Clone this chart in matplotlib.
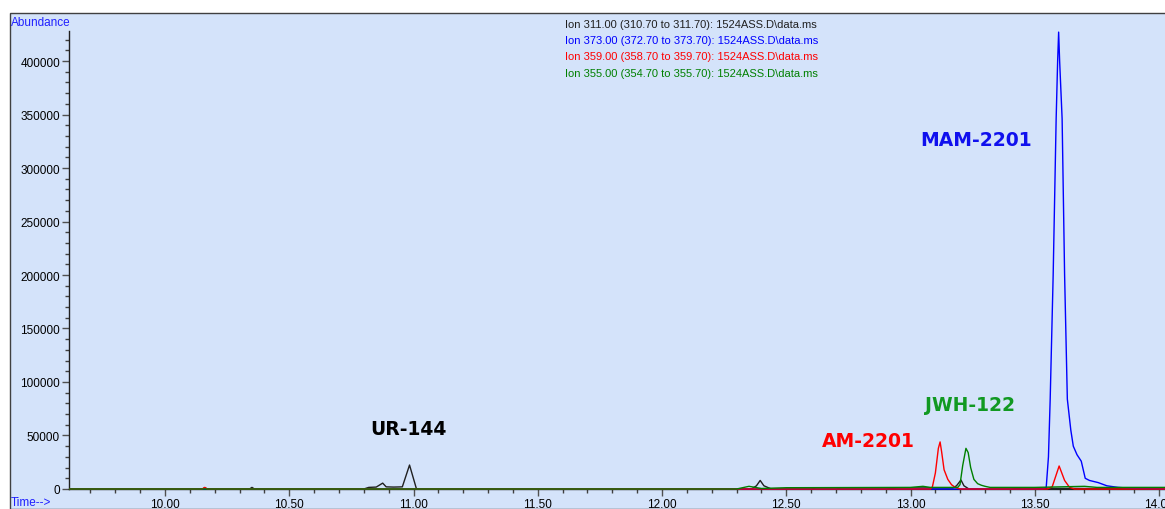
import matplotlib
matplotlib.use('Agg')
import matplotlib.pyplot as plt
from matplotlib.patches import Rectangle
from matplotlib.ticker import MultipleLocator, FuncFormatter

W, H = 1165, 510

# extracted ion chromatograms (time in min, abundance)
t_311 = [9.61, 10.15, 10.16, 10.17, 10.34, 10.35, 10.36, 10.80, 10.82, 10.85, 10.876, 10.89, 10.92,
         10.955, 10.984, 11.012, 11.05, 12.36, 12.38, 12.395, 12.41, 12.44, 12.60, 12.62, 12.70,
         12.72, 12.90, 12.95, 13.17, 13.185, 13.203, 13.215, 13.235, 13.40, 13.45, 14.03]
i_311 = [0, 0, 1200, 0, 0, 1500, 0, 0, 1500, 1800, 5500, 2000, 1800,
         2000, 22400, 0, 0, 0, 3000, 8000, 3000, 0, 0, 1000, 1000,
         0, 0, 1000, 1000, 3000, 8400, 3000, 0, 0, 800, 0]

t_373 = [9.61, 13.53, 13.546, 13.555, 13.562, 13.574, 13.586, 13.592, 13.596, 13.600, 13.610,
         13.620, 13.631, 13.645, 13.655, 13.670, 13.687, 13.703, 13.72, 13.755, 13.79, 13.835,
         13.90, 14.03]
i_373 = [0, 0, 1500, 30000, 84000, 200000, 346000, 400000, 427000, 400000, 346000,
         200000, 84000, 55000, 40000, 32000, 26000, 10000, 8000, 6000, 3000, 1500,
         500, 0]

t_359 = [9.61, 10.15, 10.16, 10.17, 13.08, 13.088, 13.10, 13.112, 13.119, 13.125, 13.135, 13.15,
         13.165, 13.18, 13.20, 13.55, 13.57, 13.598, 13.62, 13.64, 13.66, 14.03]
i_359 = [0, 0, 1500, 0, 0, 2000, 15000, 38000, 44000, 35000, 18000, 9000,
         4000, 1500, 0, 0, 2000, 21500, 8000, 1500, 0, 0]

t_355 = [9.61, 12.30, 12.35, 12.40, 12.50, 13.00, 13.05, 13.08, 13.19, 13.199, 13.21, 13.223,
         13.232, 13.242, 13.255, 13.27, 13.285, 13.30, 13.32, 13.50, 13.70, 13.75, 14.03]
i_355 = [0, 0, 2500, 500, 1200, 1500, 2500, 1500, 1500, 4000, 22000, 38000,
         34000, 20000, 9000, 5000, 3500, 2500, 1500, 1500, 2500, 1500, 1500]

ion_labels = ['Ion 311.00 (310.70 to 311.70): 1524ASS.D\\data.ms',
              'Ion 373.00 (372.70 to 373.70): 1524ASS.D\\data.ms',
              'Ion 359.00 (358.70 to 359.70): 1524ASS.D\\data.ms',
              'Ion 355.00 (354.70 to 355.70): 1524ASS.D\\data.ms']
ion_colors = ['#202020', '#0000ff', '#ff0000', '#008000']

compounds = ['UR-144', 'AM-2201', 'JWH-122', 'MAM-2201']
compound_t = [10.98, 12.83, 13.24, 13.265]
compound_y = [57000, 45000, 79000, 327000]
compound_colors = ['#000000', '#ff0000', '#119922', '#1010ee']

bg = '#d4e3fa'


def px(x, y):
    return x / W, 1 - y / H


fig = plt.figure(figsize=(W / 100, H / 100), dpi=100)
fig.patch.set_facecolor('white')
fig.patches.append(Rectangle(px(10, H), 1, (H - 14) / H, transform=fig.transFigure,
                             facecolor=bg, edgecolor='#404040', linewidth=1, zorder=-1))

ax = fig.add_axes([69 / W, (H - 495) / H, (W - 69) / W, (495 - 14) / H])
ax.set_zorder(2)
ax.set_facecolor('none')
ax.set_xlim(9.6137, 14.024)
ax.set_ylim(-4673, 444860)

for t, v, c in zip([t_311, t_373, t_359, t_355], [i_311, i_373, i_359, i_355], ion_colors):
    ax.plot(t, v, color=c, linewidth=1.0, zorder=3)

for s in ['top', 'right']:
    ax.spines[s].set_visible(False)
ax.spines['bottom'].set_position(('data', 0))
ax.spines['left'].set_bounds(0, 428000)
for s in ['left', 'bottom']:
    ax.spines[s].set_color('#202020')
    ax.spines[s].set_linewidth(1.0)

ax.xaxis.set_major_locator(MultipleLocator(0.5))
ax.xaxis.set_minor_locator(MultipleLocator(0.1))
ax.yaxis.set_major_locator(MultipleLocator(50000))
ax.xaxis.set_major_formatter(FuncFormatter(lambda v, p: '%.2f' % v))
ax.yaxis.set_major_formatter(FuncFormatter(lambda v, p: '%d' % v if v <= 420000 else ''))
ax.set_yticks([v for v in range(0, 430000, 10000)], minor=True)
ax.tick_params(axis='both', which='major', length=5, width=1, color='#505050',
               labelsize=8.5, pad=1.5, labelfontfamily='Liberation Sans')
ax.tick_params(axis='both', which='minor', length=2.8, width=1, color='#404040')

tf = 'Liberation Sans'
fig.text(*px(11, 23), 'Abundance', color='#2020ff', fontsize=8.5, family=tf, va='center')
fig.text(*px(11, 503), 'Time-->', color='#2020ff', fontsize=8.5, family=tf, va='center')

for k, (lab, c) in enumerate(zip(ion_labels, ion_colors)):
    fig.text(*px(565, 25 + 16.2 * k), lab, color=c, fontsize=8, family=tf, va='center')

for name, t, y, c in zip(compounds, compound_t, compound_y, compound_colors):
    ax.text(t, y, name, color=c, fontsize=13.5, fontweight='bold', family='DejaVu Sans',
            ha='center', va='center')

fig.savefig('out.png', dpi=100, facecolor='white')
